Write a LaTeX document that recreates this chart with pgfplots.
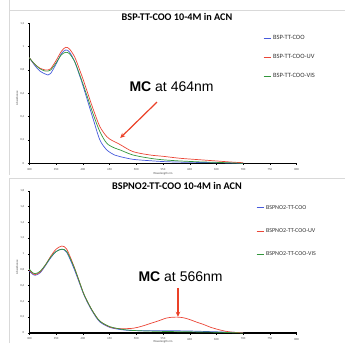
\documentclass[border=0pt]{standalone}
\usepackage{pgfplots}
\pgfplotsset{compat=1.18}
\usetikzlibrary{arrows.meta}
\usepackage{fontspec}
\setmainfont{Carlito}
\newfontfamily\arialfont{Liberation Sans}
\definecolor{cblue}{RGB}{70,90,220}
\definecolor{cred}{RGB}{235,70,55}
\definecolor{cgreen}{RGB}{50,150,60}
\definecolor{carrow}{RGB}{235,65,40}
\pgfplotsset{
  panel/.style={
    scale only axis, width=267.4pt,
    xmin=300, xmax=800,
    axis lines=left, axis line style={-, black, line width=1.1pt},
    xtick={300,350,...,800},
    tick align=outside, major tick length=1.5pt,
    tick style={black, line width=0.4pt},
    tick label style={font=\fontsize{3}{3}\selectfont, color=black!70},
    /pgf/number format/assume math mode=true,
    /pgf/number format/use comma,
    /pgf/number format/1000 sep={},
    xticklabel style={yshift=0pt},
    clip=false,
    legend cell align=left,
  },
}
\begin{document}
\begin{tikzpicture}
\path[use as bounding box] (0,0) rectangle (345pt,343pt);
% panel frames
\draw[black!15, line width=0.6pt] (9pt,343pt) -- (9pt,333pt) -- (345pt,333pt);
\draw[black!15, line width=0.6pt] (9pt,0pt) -- (9pt,165pt) -- (345pt,165pt);
\draw[black!15, line width=0.6pt] (9pt,333pt) -- (9pt,168pt);

% ---------------- top panel ----------------
\begin{axis}[panel, at={(29.3pt,179.7pt)}, anchor=origin, height=140pt,
  ymin=0, ymax=1.2, ytick={0,0.2,...,1.2},
  legend image code/.code={\draw[#1,line width=0.8pt] (0pt,0pt) -- (7pt,0pt);},
  legend style={draw=none, fill=none, at={(0.874,0.93)}, anchor=north west,
    font=\fontsize{6.5}{6.5}\selectfont, text=black!80, row sep=9.5pt, inner sep=0pt}]
\addplot[cblue, line width=0.7pt, smooth] coordinates {
(300,0.905)(310,0.84)(320,0.79)(330,0.765)(335,0.757)(340,0.77)(350,0.85)(360,0.94)(368,0.971)(375,0.955)(385,0.87)(395,0.74)(401,0.656)(410,0.52)(420,0.371)(432,0.2)(445,0.114)(460,0.07)(470,0.057)(494,0.034)(526,0.022)(550,0.015)(582,0.01)(650,0.005)(700,0.0)};
\addlegendentry{BSP-TT-COO}
\addplot[cred, line width=0.7pt, smooth] coordinates {
(300,0.905)(310,0.85)(320,0.815)(330,0.80)(335,0.80)(340,0.81)(350,0.88)(360,0.96)(368,0.994)(375,0.98)(385,0.91)(395,0.79)(401,0.714)(410,0.59)(420,0.457)(432,0.314)(445,0.228)(455,0.195)(464,0.175)(470,0.16)(494,0.10)(526,0.071)(550,0.06)(582,0.043)(620,0.03)(650,0.02)(680,0.01)(700,0.005)};
\addlegendentry{BSP-TT-COO-UV}
\addplot[cgreen, line width=0.7pt, smooth] coordinates {
(300,0.905)(310,0.85)(320,0.81)(330,0.79)(335,0.79)(340,0.80)(350,0.86)(360,0.93)(368,0.951)(375,0.94)(385,0.87)(395,0.75)(401,0.671)(410,0.55)(420,0.414)(432,0.271)(445,0.171)(460,0.13)(470,0.114)(494,0.071)(526,0.043)(550,0.03)(582,0.02)(620,0.012)(650,0.008)(700,0.0)};
\addlegendentry{BSP-TT-COO-VIS}
\draw[carrow, line width=1.2pt, -{Stealth[length=5pt,width=4.5pt]}] (axis cs:538.8,0.525) -- (axis cs:470,0.217);
\end{axis}

% ---------------- bottom panel ----------------
\begin{axis}[panel, at={(29.3pt,10pt)}, anchor=origin, height=142.3pt,
  ymin=0, ymax=1.8, ytick={0,0.2,...,1.8},
  legend image code/.code={\draw[#1,line width=0.8pt] (0pt,0pt) -- (7pt,0pt);},
  legend style={draw=none, fill=none, at={(0.848,0.914)}, anchor=north west,
    font=\fontsize{6}{6}\selectfont, text=black!80, row sep=14pt, inner sep=0pt}]
\addplot[cblue, line width=0.7pt, smooth] coordinates {
(300,0.785)(305,0.75)(311,0.73)(320,0.76)(330,0.85)(340,0.95)(350,1.03)(361,1.06)(370,1.02)(382,0.84)(390,0.70)(401,0.50)(410,0.37)(420,0.25)(432,0.14)(451,0.07)(475,0.04)(500,0.03)(550,0.03)(600,0.025)(650,0.015)(700,0.005)};
\addlegendentry{BSPNO2-TT-COO}
\addplot[cred, line width=0.7pt, smooth] coordinates {
(300,0.80)(305,0.76)(311,0.74)(320,0.77)(330,0.86)(340,0.97)(350,1.06)(361,1.10)(370,1.06)(382,0.87)(390,0.72)(401,0.51)(410,0.38)(420,0.26)(432,0.15)(451,0.075)(470,0.055)(494,0.06)(510,0.085)(526,0.12)(540,0.15)(557,0.19)(570,0.20)(580,0.20)(590,0.19)(600,0.17)(612,0.14)(625,0.11)(640,0.07)(650,0.05)(665,0.025)(680,0.01)(700,0.003)};
\addlegendentry{BSPNO2-TT-COO-UV}
\addplot[cgreen, line width=0.7pt, smooth] coordinates {
(300,0.81)(305,0.77)(311,0.75)(320,0.78)(330,0.86)(340,0.96)(350,1.03)(361,1.06)(370,1.03)(382,0.86)(390,0.72)(401,0.51)(410,0.38)(420,0.26)(432,0.15)(451,0.08)(475,0.045)(500,0.03)(550,0.02)(600,0.015)(650,0.01)(700,0.0)};
\addlegendentry{BSPNO2-TT-COO-VIS}
\draw[carrow, line width=1.2pt, -{Stealth[length=5pt,width=4.5pt]}] (axis cs:578,0.57) -- (axis cs:578,0.205);
\end{axis}

% titles and labels
\node[font=\fontsize{10.2}{10.2}\selectfont\bfseries] at (177pt,326pt) {BSP-TT-COO 10-4M in ACN};
\node[font=\fontsize{10.2}{10.2}\selectfont\bfseries] at (177pt,157pt) {BSPNO2-TT-COO 10-4M in ACN};
\node[anchor=west, font=\arialfont\fontsize{14}{14}\selectfont] at (126pt,256pt) {\textbf{MC} at 464nm};
\node[anchor=west, font=\arialfont\fontsize{14}{14}\selectfont] at (135pt,66pt) {\textbf{MC} at 566nm};
\node[rotate=90, font=\fontsize{3}{3}\selectfont, color=black!70] at (17pt,245pt) {Absorbance};
\node[rotate=90, font=\fontsize{3}{3}\selectfont, color=black!70] at (17pt,76pt) {Absorbance};
\node[font=\fontsize{3}{3}\selectfont, color=black!70] at (163pt,169pt) {Wavelength nm};
\node[font=\fontsize{3}{3}\selectfont, color=black!70, inner sep=0pt] at (163pt,1.3pt) {Wavelength nm};
\end{tikzpicture}
\end{document}
